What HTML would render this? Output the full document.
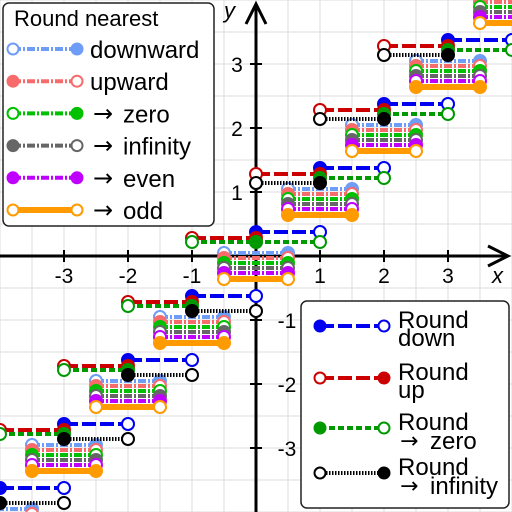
<!DOCTYPE html>
<html><head><meta charset="utf-8"><style>
html,body{margin:0;padding:0;width:512px;height:512px;overflow:hidden;background:#fff}
svg{display:block;font-family:"Liberation Sans","DejaVu Sans",sans-serif}
</style></head><body>
<svg id="c" width="512" height="512" viewBox="0 0 512 512">
<g id="grid"></g>
<g id="axes"></g>
<g id="series"></g>
<g id="leg1">
<rect x="3" y="3" width="211" height="223" rx="6" fill="#fff" stroke="#222" stroke-width="1.5"/>
<text x="14" y="26" font-size="22">Round nearest</text>
</g>
<g id="leg2">
<rect x="301" y="301" width="208" height="207" rx="6" fill="#fff" stroke="#222" stroke-width="1.5"/>
</g>
</svg>
<script>
const NS="http://www.w3.org/2000/svg";
// data
const stepStarts=[-4,-3,-2,-1,0,1,2,3];
const floorVals=[-4,-3,-2,-1,0,1,2,3];
const ceilVals=[-3,-2,-1,0,1,2,3,4];
const truncVals=[-3,-2,-1,0,0,1,2,3];
const awayVals=[-4,-3,-2,-1,1,2,3,4];
const nearCenters=[-4,-3,-2,-1,0,1,2,3,4];
const nearVals=[-4,-3,-2,-1,0,1,2,3,4];
const xTicks=[-3,-2,-1,1,2,3];
const yTicks=[-3,-2,-1,1,2,3];

const X=v=>256+64*v, Y=v=>256-64*v;
function el(tag,attrs,parent){const e=document.createElementNS(NS,tag);for(const k in attrs)e.setAttribute(k,attrs[k]);parent.appendChild(e);return e;}
const grid=document.getElementById('grid'),axes=document.getElementById('axes'),ser=document.getElementById('series');
for(let p=0;p<=512;p+=32){
 el('line',{x1:p,y1:0,x2:p,y2:512,stroke:'#ddd','stroke-width':1},grid);
 el('line',{x1:0,y1:p,x2:512,y2:p,stroke:'#ddd','stroke-width':1},grid);
}
el('line',{x1:0,y1:256,x2:505,y2:256,stroke:'#000','stroke-width':3},axes);
el('line',{x1:256,y1:512,x2:256,y2:7,stroke:'#000','stroke-width':3},axes);
el('path',{d:'M488,246 L508,256 L488,266',fill:'none',stroke:'#000','stroke-width':3},axes);
el('path',{d:'M246,24 L256,4 L266,24',fill:'none',stroke:'#000','stroke-width':3},axes);
const xl=el('text',{x:492,y:283,'font-size':22,'font-style':'italic'},axes);xl.textContent='x';

const yl=el('text',{x:224,y:18,'font-size':22,'font-style':'italic'},axes);yl.textContent='y';

xTicks.forEach(t=>{
 el('line',{x1:X(t),y1:250,x2:X(t),y2:262,stroke:'#000','stroke-width':2},axes);
 const tx=el('text',{x:X(t),y:283,'font-size':21,'text-anchor':'middle'},axes);tx.textContent=t<0?'-'+(-t):t;
 
});
yTicks.forEach(t=>{
 el('line',{x1:250,y1:Y(t),x2:262,y2:Y(t),stroke:'#000','stroke-width':2},axes);
 const tx=el('text',{x:t>0?237:287,y:Y(t)+8,'font-size':21,'text-anchor':'middle'},axes);tx.textContent=t<0?'-'+(-t):t;
 
});
function seg(g,x1,x2,y,color,w,dash,lf,rf,r){
 el('line',{x1:x1,y1:y,x2:x2,y2:y,stroke:color,'stroke-width':w,'stroke-dasharray':dash||'none'},g);
 el('circle',{cx:x1,cy:y,r:r,fill:lf?color:'#fff',stroke:color,'stroke-width':2},g);
 el('circle',{cx:x2,cy:y,r:r,fill:rf?color:'#fff',stroke:color,'stroke-width':2},g);
}
// nearest series
const nearDefs=[
 ['nearest-downward','#6f9cf6',-3,'8,2,2,2',k=>[false,true]],
 ['nearest-upward','#f76b6b',2,'8,2,2,2',k=>[true,false]],
 ['nearest-zero','#00c000',7,'8,2,2,2',k=>k>0?[false,true]:k<0?[true,false]:[true,true]],
 ['nearest-infinity','#666',12,'8,2,2,2',k=>k>0?[true,false]:k<0?[false,true]:[false,false]],
 ['nearest-even','#c000ff',17,'8,2,2,2',k=>k%2===0?[true,true]:[false,false]],
 ['nearest-odd','#ff9a00',23,'none',k=>k%2===0?[false,false]:[true,true]]
];
nearDefs.forEach(d=>{
 const g=el('g',{},ser);
 nearCenters.forEach((c,i)=>{const m=d[4](c);seg(g,X(c-0.5),X(c+0.5),Y(nearVals[i])+d[2],d[1],d[0]==='nearest-odd'?6:4,d[3],m[0],m[1],6);});
});
const dirDefs=[
 ['round-down','#0000f0',-24,'14,4',floorVals,k=>[true,false]],
 ['round-up','#cc0000',-18,'14,4',ceilVals,k=>[false,true]],
 ['round-zero','#009900',-14,'6,3',truncVals,k=>k>=0?[true,false]:[false,true]],
 ['round-infinity','#000',-9,'1.5,1.5',awayVals,k=>k>=0?[false,true]:[true,false]]
];
dirDefs.forEach(d=>{
 const g=el('g',{},ser);
 stepStarts.forEach((s,i)=>{const m=d[5](s);seg(g,X(s),X(s+1),Y(d[4][i])+d[2],d[1],4,d[3],m[0],m[1],6);});
});
// legend 1
const L1=document.getElementById('leg1');
const l1Labels=[['downward',''],['upward',''],['zero','→'],['infinity','→'],['even','→'],['odd','→']];
const l1Ends=[[false,true],[true,false],[false,true],[true,false],[true,true],[false,false]];
nearDefs.forEach((d,i)=>{
 const y=49+i*32.2;
 const g=el('g',{},L1);
 seg(g,13,77,y,d[1],d[0]==='nearest-odd'?6:4,d[3],l1Ends[i][0],l1Ends[i][1],5.5);
 if(l1Labels[i][1]){const a=el('text',{x:93,y:y+8,'font-size':24,'font-family':'DejaVu Sans'},g);a.textContent='→';
  const t=el('text',{x:123,y:y+9,'font-size':24},g);t.textContent=l1Labels[i][0];}
 else{const t=el('text',{x:90,y:y+9,'font-size':24},g);t.textContent=l1Labels[i][0];}
});
// legend 2
const L2=document.getElementById('leg2');
const l2a=['down','up','zero','infinity'];const l2y=[326,378,428,473];
const l2Ends=[[true,false],[false,true],[true,false],[false,true]];
dirDefs.forEach((d,i)=>{
 const y=l2y[i];
 const g=el('g',{},L2);
 seg(g,320,384,y,d[1],4,d[3],l2Ends[i][0],l2Ends[i][1],5.5);
 const t=el('text',{x:398,y:y+2,'font-size':24},g);t.textContent='Round';
 if(i<2){const t2=el('text',{x:398,y:y+20,'font-size':24},g);t2.textContent=l2a[i];}
 else{const a=el('text',{x:400,y:y+20,'font-size':22,'font-family':'DejaVu Sans'},g);a.textContent='→';
  const t2=el('text',{x:430,y:y+21,'font-size':24},g);t2.textContent=l2a[i];}
});
</script>
</body></html>
